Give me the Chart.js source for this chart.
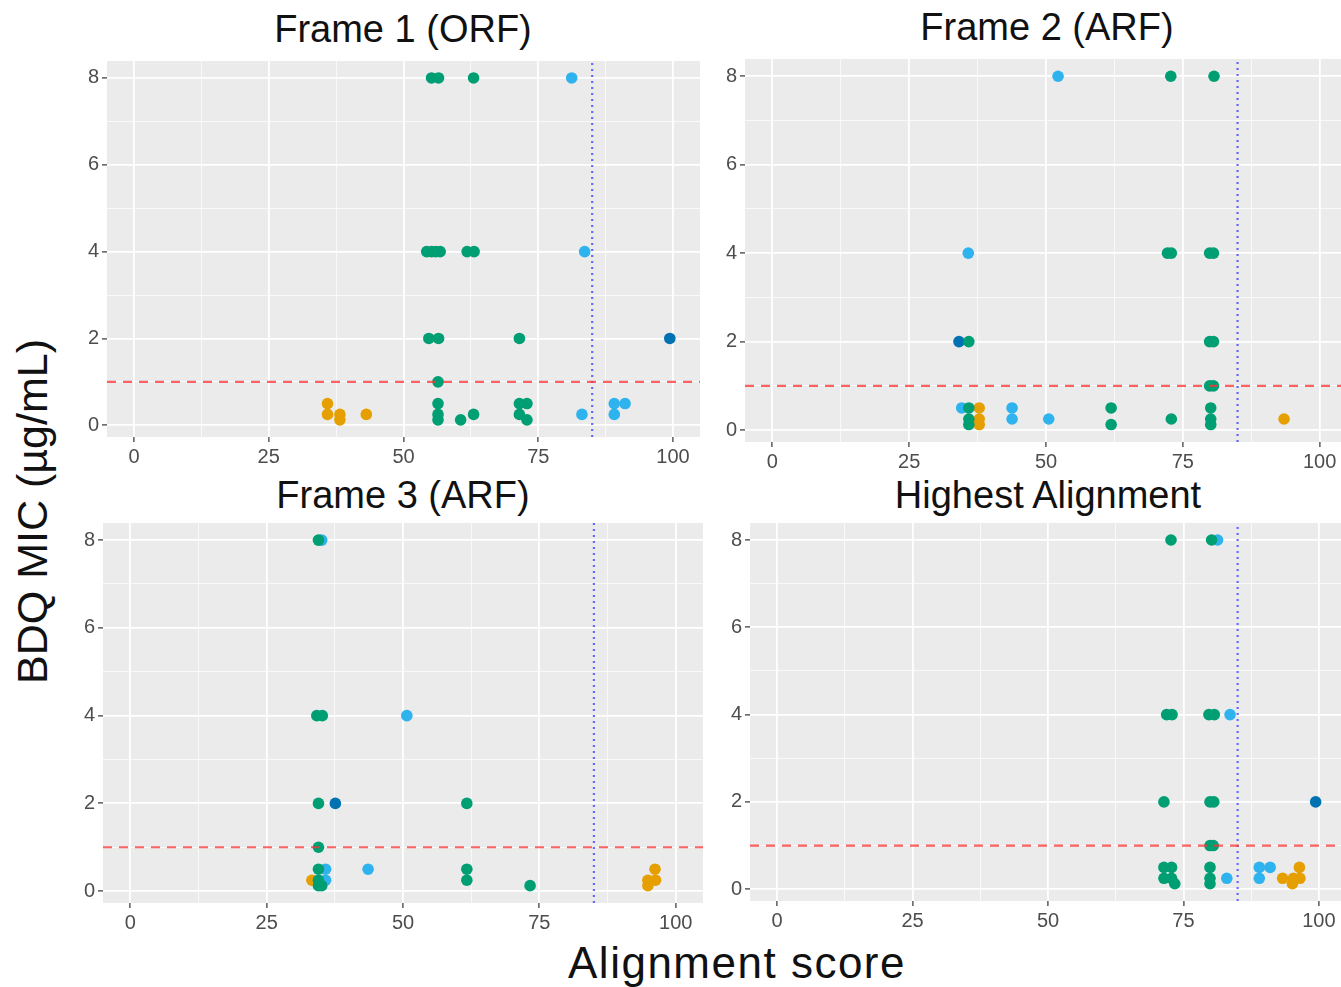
<!DOCTYPE html>
<html>
<head>
<meta charset="utf-8">
<script src="https://cdn.jsdelivr.net/npm/chart.js@4.4.1/dist/chart.umd.min.js"></script>
<style>
  body { margin: 0; width: 1341px; height: 987px; overflow: hidden; background: #fff; position: relative; font-family: "Liberation Sans", Arial, sans-serif; }
  canvas { position: absolute; }
  .title { position: absolute; font-size: 38px; line-height: 38px; color: #111; white-space: nowrap; transform: translateX(-50%); }
  #c1 { left: 62px; top: 61px; }
  #c2 { left: 700px; top: 59px; }
  #c3 { left: 58px; top: 523px; }
  #c4 { left: 705px; top: 523px; }
  #xlab { position: absolute; left: 737px; top: 941px; font-size: 44px; line-height: 44px; letter-spacing: 1.5px; transform: translateX(-50%); white-space: nowrap; color: #111; }
  #ylab { position: absolute; left: -168px; top: 490px; width: 400px; text-align: center; font-size: 43px; line-height: 43px; transform: rotate(-90deg); white-space: nowrap; color: #111; }
</style>
</head>
<body>
<div class="title" style="left:403px; top:10px;">Frame 1 (ORF)</div>
<div class="title" style="left:1047px; top:8px;">Frame 2 (ARF)</div>
<div class="title" style="left:403px; top:476px;">Frame 3 (ARF)</div>
<div class="title" style="left:1048px; top:476px;">Highest Alignment</div>
<canvas id="c1" width="638" height="411"></canvas>
<canvas id="c2" width="647" height="418"></canvas>
<canvas id="c3" width="645" height="415"></canvas>
<canvas id="c4" width="641" height="413"></canvas>
<div id="xlab">Alignment score</div>
<div id="ylab">BDQ MIC (µg/mL)</div>
<script>
// ticks
const xTicks = [0, 12.5, 25, 37.5, 50, 62.5, 75, 87.5, 100];
const xLabels = [0, 25, 50, 75, 100];
const yTicks = [0, 1, 2, 3, 4, 5, 6, 7, 8];
const yLabels = [0, 2, 4, 6, 8];

// reference lines
const micBreakpoint = 1;
const scoreCutoff = 85;

// colours of the groups (no legend in the figure)
const groupColors = ["#009E73", "#E69F00", "#2fb3ee", "#0072B2"];

// [alignment score, MIC] per panel, per group: green, orange, light blue, dark blue
const frame1Green = [[55.2,8],[56.5,8],[63,8],[54.3,4],[55.2,4],[56,4],[56.8,4],[61.8,4],[63.1,4],[54.7,2],[56.5,2],[71.5,2],[56.4,1],[56.4,0.5],[71.5,0.5],[72.9,0.5],[56.4,0.25],[63,0.25],[71.5,0.25],[56.4,0.125],[60.6,0.125],[72.9,0.125]];
const frame1Orange = [[35.9,0.5],[35.9,0.25],[38.2,0.25],[38.2,0.125],[43.1,0.25]];
const frame1Sky = [[81.2,8],[83.6,4],[83.1,0.25],[89.1,0.5],[91.1,0.5],[89.1,0.25]];
const frame1Navy = [[99.4,2]];

const frame2Green = [[72.8,8],[80.7,8],[72.2,4],[72.9,4],[79.9,4],[80.6,4],[35.9,2],[79.9,2],[80.6,2],[79.9,1],[80.6,1],[35.9,0.5],[61.9,0.5],[80.1,0.5],[35.9,0.25],[72.9,0.25],[80.1,0.25],[35.9,0.125],[61.9,0.125],[80.1,0.125]];
const frame2Orange = [[37.8,0.5],[37.8,0.25],[37.8,0.125],[93.5,0.25]];
const frame2Sky = [[52.2,8],[35.8,4],[34.6,0.5],[43.8,0.5],[43.8,0.25],[50.5,0.25]];
const frame2Navy = [[34.1,2]];

const frame3Green = [[34.5,8],[34.2,4],[35.2,4],[34.5,2],[61.7,2],[34.5,1],[34.5,0.5],[61.7,0.5],[34.5,0.25],[61.7,0.25],[34.5,0.125],[35.1,0.125],[73.3,0.125]];
const frame3Orange = [[33.3,0.25],[96.2,0.5],[94.9,0.25],[96.3,0.25],[94.9,0.125]];
const frame3Sky = [[35.1,8],[50.7,4],[35.8,0.5],[43.6,0.5],[35.8,0.25]];
const frame3Navy = [[37.6,2]];

const highestGreen = [[72.7,8],[80.2,8],[71.9,4],[72.9,4],[79.7,4],[80.7,4],[71.4,2],[79.9,2],[80.6,2],[79.9,1],[80.5,1],[71.4,0.5],[72.8,0.5],[79.9,0.5],[71.4,0.25],[72.8,0.25],[79.9,0.25],[73.4,0.125],[79.9,0.125]];
const highestOrange = [[96.4,0.5],[93.3,0.25],[95.3,0.25],[96.5,0.25],[95.1,0.125]];
const highestSky = [[81.3,8],[83.6,4],[89,0.5],[91,0.5],[83,0.25],[89,0.25]];
const highestNavy = [[99.4,2]];

// axis limits (ggplot expansion)
const xMin = -5, xMax = 105;
const yMin = -0.27, yMax = 8.39;

const tickFont = { family: "'Liberation Sans', Arial, sans-serif", size: 20 };

// grey panel background
const panelBg = {
  id: "panelBg",
  beforeDraw: (chart) => {
    const a = chart.chartArea;
    const ctx = chart.ctx;
    ctx.save();
    ctx.fillStyle = "#ebebeb";
    ctx.fillRect(a.left, a.top, a.right - a.left, a.bottom - a.top);
    ctx.restore();
  },
};

const gridOpts = (labels) => ({
  color: (c) => (c.tick && labels.includes(c.tick.value) ? "#ffffff" : "rgba(255,255,255,0.75)"),
  lineWidth: (c) => (c.tick && labels.includes(c.tick.value) ? 1.8 : 0.9),
  tickColor: (c) => (c.tick && labels.includes(c.tick.value) ? "#333333" : "rgba(0,0,0,0)"),
  tickLength: 5,
  tickWidth: 1.2,
});

const buildChart = (id, groups) => {
  const datasets = [
    {
      data: [{ x: xMin, y: micBreakpoint }, { x: xMax, y: micBreakpoint }],
      showLine: true,
      borderColor: "rgba(255,50,50,0.75)",
      borderWidth: 2.2,
      borderDash: [9, 7],
      pointRadius: 0,
      order: 0,
    },
    {
      data: [{ x: scoreCutoff, y: yMin }, { x: scoreCutoff, y: yMax }],
      showLine: true,
      borderColor: "rgba(80,80,255,0.85)",
      borderWidth: 2.2,
      borderDash: [2, 4],
      pointRadius: 0,
      order: 0,
    },
  ];
  groups.forEach((pts, i) => {
    datasets.push({
      data: pts.map((p) => ({ x: p[0], y: p[1] })),
      backgroundColor: groupColors[i],
      borderWidth: 0,
      pointRadius: 5.8,
      pointHoverRadius: 5.8,
      order: 1,
    });
  });

  new Chart(document.getElementById(id), {
    type: "scatter",
    data: { datasets: datasets },
    options: {
      responsive: false,
      animation: false,
      events: [],
      layout: { padding: 0, autoPadding: false },
      plugins: { legend: { display: false }, tooltip: { enabled: false } },
      scales: {
        x: {
          type: "linear",
          min: xMin,
          max: xMax,
          afterBuildTicks: (s) => {
            s.ticks = xTicks.map((v) => ({ value: v }));
          },
          afterFit: (s) => {
            s.height = 35;
            s.paddingLeft = 0;
            s.paddingRight = 0;
          },
          ticks: {
            callback: (v) => (xLabels.includes(v) ? String(v) : ""),
            autoSkip: false,
            maxRotation: 0,
            color: "#4d4d4d",
            font: tickFont,
            padding: 3,
          },
          grid: gridOpts(xLabels),
          border: { display: false },
        },
        y: {
          type: "linear",
          min: yMin,
          max: yMax,
          afterBuildTicks: (s) => {
            s.ticks = yTicks.map((v) => ({ value: v }));
          },
          afterFit: (s) => {
            s.width = 45;
            s.paddingTop = 0;
            s.paddingBottom = 0;
          },
          ticks: {
            callback: (v) => (yLabels.includes(v) ? String(v) : ""),
            autoSkip: false,
            color: "#4d4d4d",
            font: tickFont,
            padding: 3,
          },
          grid: gridOpts(yLabels),
          border: { display: false },
        },
      },
    },
    plugins: [panelBg],
  });
};

buildChart("c1", [frame1Green, frame1Orange, frame1Sky, frame1Navy]);
buildChart("c2", [frame2Green, frame2Orange, frame2Sky, frame2Navy]);
buildChart("c3", [frame3Green, frame3Orange, frame3Sky, frame3Navy]);
buildChart("c4", [highestGreen, highestOrange, highestSky, highestNavy]);
</script>
</body>
</html>
